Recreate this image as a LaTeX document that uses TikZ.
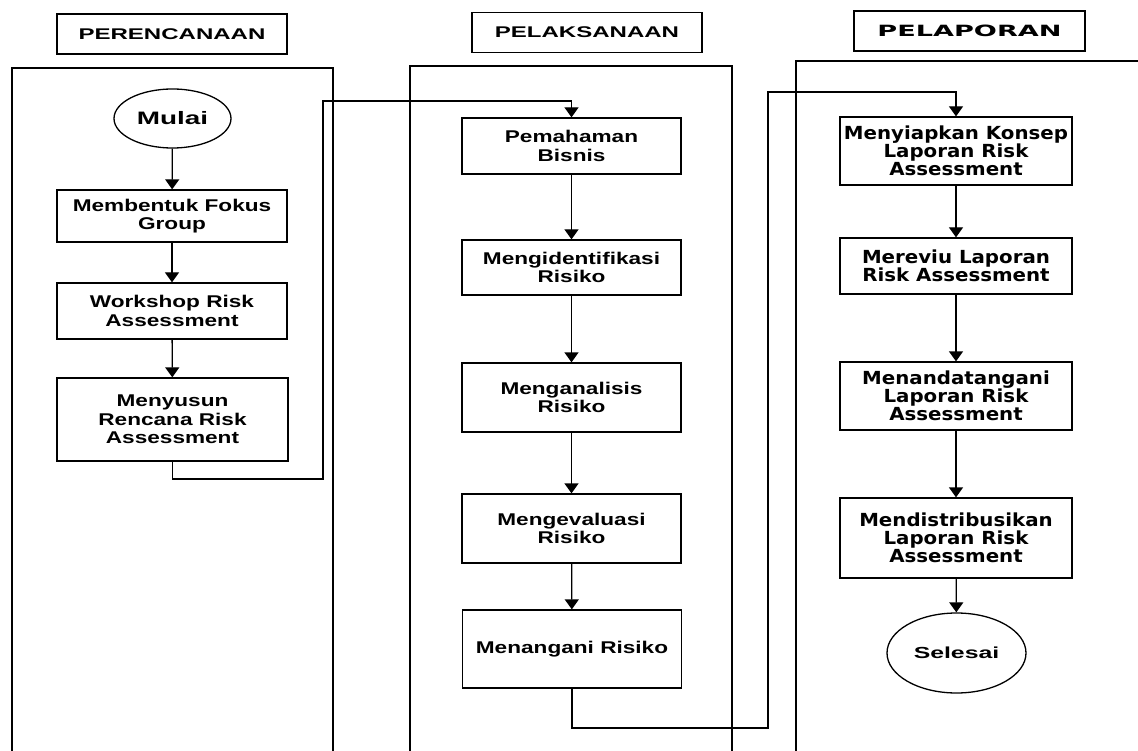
\documentclass[tikz,border=0pt]{standalone}
\usepackage{fontspec}
\usetikzlibrary{arrows.meta,shapes.geometric}
% Fonts: a widened Arial-like face and a widened Verdana-like face
\newfontfamily\faceA[FakeStretch=1.33]{Liberation Sans}
\newfontfamily\faceAwide[FakeStretch=1.55]{Liberation Sans}
\newfontfamily\faceB[FakeStretch=1.1]{DejaVu Sans}
\newfontfamily\faceBwide[FakeStretch=1.75]{DejaVu Sans}
\begin{document}
\begin{tikzpicture}[x=1pt,y=-1pt,
  line width=1.3pt,
  lane/.style={line width=1.3pt},
  header/.style={draw,minimum width=230pt,minimum height=40pt,inner sep=0pt,
    font=\faceAwide\bfseries\fontsize{15.5}{17}\selectfont},
  stepA/.style={draw,align=center,inner sep=0pt,
    font=\faceA\bfseries\fontsize{17}{18.5}\selectfont},
  stepB/.style={draw,align=center,inner sep=0pt,
    font=\faceB\bfseries\fontsize{18}{18}\selectfont},
  terminal/.style={draw,ellipse,inner sep=0pt,
    font=\faceAwide\bfseries\fontsize{16}{17}\selectfont},
  flow/.style={-{Triangle[width=14pt,length=10pt]}},
]
\useasboundingbox (0,0) rectangle (1138,751);

% column headers
\node[header] (h1) at (172,34) {PERENCANAAN};
\node[header] (h2) at (587,32.5) {PELAKSANAAN};
\node[header,minimum width=231pt,font=\faceBwide\bfseries\fontsize{15.5}{17}\selectfont] (h3) at (969.5,31) {PELAPORAN};

% swimlane frames, open at the bottom
\draw[lane] (12,751) -- (12,68) -- (333,68) -- (333,751);
\draw[lane] (410,751) -- (410,66) -- (732,66) -- (732,751);
\draw[lane] (796,751) -- (796,61) -- (1138,61);

% planning column
\node[terminal,minimum width=117pt,minimum height=59pt,font=\faceAwide\bfseries\fontsize{18}{19}\selectfont] (mulai) at (172.5,118.5) {Mulai};
\node[stepA,minimum width=230pt,minimum height=52pt] (a1) at (172,216) {Membentuk Fokus\\Group};
\node[stepA,minimum width=230pt,minimum height=56pt] (a2) at (172,311) {Workshop Risk\\Assessment};
\node[stepA,minimum width=231pt,minimum height=83pt] (a3) at (172.5,419.5) {Menyusun\\Rencana Risk\\Assessment};

% execution column
\node[stepA,minimum width=219pt,minimum height=56pt] (b1) at (571.5,146) {Pemahaman\\Bisnis};
\node[stepA,minimum width=219pt,minimum height=55pt] (b2) at (571.5,267.5) {Mengidentifikasi\\Risiko};
\node[stepA,minimum width=219pt,minimum height=69pt] (b3) at (571.5,397.5) {Menganalisis\\Risiko};
\node[stepA,minimum width=219pt,minimum height=69pt] (b4) at (571.5,528.5) {Mengevaluasi\\Risiko};
\node[stepA,minimum width=219pt,minimum height=78pt] (b5) at (572,649) {Menangani Risiko};

% reporting column
\node[stepB,minimum width=232pt,minimum height=68pt] (c1) at (956,151) {Menyiapkan Konsep\\Laporan Risk\\Assessment};
\node[stepB,minimum width=232pt,minimum height=56pt] (c2) at (956,266) {Mereviu Laporan\\Risk Assessment};
\node[stepB,minimum width=232pt,minimum height=68pt] (c3) at (956,396) {Menandatangani\\Laporan Risk\\Assessment};
\node[stepB,minimum width=232pt,minimum height=80pt] (c4) at (956,538) {Mendistribusikan\\Laporan Risk\\Assessment};
\node[terminal,minimum width=139pt,minimum height=80pt] (selesai) at (956.5,653) {Selesai};

% bends of the cross-column connectors
\coordinate (k1) at (323,479);
\coordinate (k2) at (323,101);
\coordinate (k3) at (768,728);
\coordinate (k4) at (768,92);

% arrows
\draw[flow] (mulai) -- (a1);
\draw[flow] (a1) -- (a2);
\draw[flow] (a2) -- (a3);
\draw[flow] (a3.south) |- (k1) -- (k2) -| (b1.north);
\draw[flow] (b1) -- (b2);
\draw[flow] (b2) -- (b3);
\draw[flow] (b3) -- (b4);
\draw[flow] (b4) -- (b5);
\draw[flow] (b5.south) |- (k3) -- (k4) -| (c1.north);
\draw[flow] (c1) -- (c2);
\draw[flow] (c2) -- (c3);
\draw[flow] (c3) -- (c4);
\draw[flow] (c4) -- (selesai);
\end{tikzpicture}
\end{document}
